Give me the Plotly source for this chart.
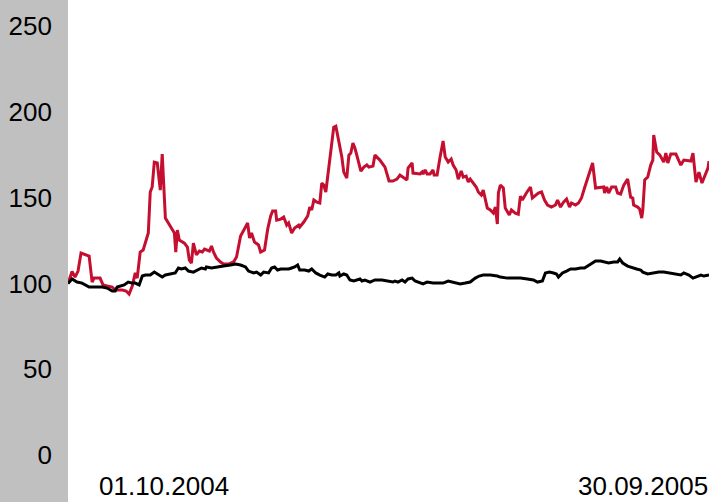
import pandas as pd
import plotly.graph_objects as go

# ---- data (day offsets from 01.10.2004, index values) ----
start_date = "2004-10-01"
end_date = "2005-09-30"

red_days = [0, 2.3, 4.0, 5.7, 7.4, 10.3, 12.0, 13.7, 14.8, 18.2, 19.9, 22.2, 25.1, 26.8, 30.8, 33.0,
            34.7, 36.5, 38.2, 39.3, 41.0, 42.7, 45.6, 46.7, 47.8, 49.0, 50.7, 52.4, 53.5, 55.3, 57.5,
            60.4, 61.2, 62.1, 63.2, 66.1, 67.8, 68.9, 70.1, 71.2, 72.9, 74.6, 76.3, 77.5, 80.3, 81.5,
            82.6, 84.3, 86.6, 88.3, 91.1, 94.0, 95.7, 98.0, 100.8, 102.0, 103.1, 104.2, 105.9, 108.2,
            109.4, 111.6, 113.4, 115.1, 116.2, 117.9, 118.5, 120.8, 122.5, 124.2, 125.3, 127.0, 128.7,
            131.0, 131.6, 133.9, 136.1, 137.3, 138.4, 139.6, 141.3, 143.0, 144.1, 145.2, 146.4, 148.1,
            149.2, 150.9, 152.1, 153.8, 155.5, 156.6, 158.3, 159.5, 160.6, 161.8, 162.9, 164.0, 165.2,
            166.3, 168.0, 169.7, 170.9, 173.2, 174.3, 177.1, 180.0, 182.3, 184.5, 186.8, 188.5, 190.2,
            192.5, 193.1, 195.4, 195.9, 199.9, 201.1, 201.6, 202.8, 203.9, 205.6, 207.3, 207.9, 209.6,
            211.3, 213.0, 214.2, 215.9, 217.6, 218.7, 220.4, 221.6, 223.3, 224.4, 226.1, 227.3, 228.4,
            230.1, 231.8, 233.0, 234.7, 235.8, 238.1, 239.8, 241.5, 242.7, 243.8, 244.4, 245.5, 247.2,
            247.8, 248.3, 250.6, 251.8, 254.0, 255.7, 256.9, 258.0, 260.3, 262.6, 263.7, 265.4, 267.1,
            268.9, 270.6, 272.3, 274.5, 276.8, 278.0, 279.7, 281.4, 283.1, 284.8, 285.9, 288.2, 289.9,
            291.6, 293.3, 295.6, 297.9, 299.6, 302.5, 304.2, 304.7, 305.9, 307.0, 308.7, 311.0, 312.1,
            313.8, 315.6, 317.8, 319.5, 320.7, 321.2, 323.5, 324.6, 325.8, 326.4, 327.5, 329.2, 330.9,
            332.1, 332.6, 334.3, 336.1, 338.3, 339.5, 340.6, 342.3, 345.2, 348.0, 349.7, 353.7, 354.9,
            356.6, 358.3, 360.0, 361.7, 363.4, 364.0]
red_vals = [100.0, 107.0, 103.7, 107.2, 117.7, 116.6, 116.0, 100.8, 103.1, 103.1, 99.1, 98.5, 97.9,
            96.2, 96.2, 95.6, 93.8, 98.5, 106.1, 103.1, 118.3, 119.5, 129.4, 153.3, 156.2, 170.7,
            170.2, 154.4, 175.4, 138.1, 134.0, 129.4, 118.3, 131.1, 125.3, 123.5, 121.2, 113.6,
            111.9, 123.5, 116.6, 118.9, 118.3, 120.0, 118.9, 121.8, 118.3, 114.8, 112.5, 111.3,
            111.3, 112.5, 115.4, 127.6, 132.9, 135.2, 126.5, 129.4, 124.1, 122.4, 118.3, 119.5,
            131.7, 139.3, 142.2, 142.2, 136.9, 137.5, 138.7, 134.0, 135.2, 129.4, 132.3, 134.0,
            132.9, 135.8, 139.3, 144.5, 142.8, 148.6, 147.4, 146.9, 158.5, 157.3, 153.3, 167.2,
            178.9, 191.1, 191.7, 182.4, 173.7, 164.9, 161.4, 174.8, 176.0, 181.8, 178.9, 174.8,
            170.2, 165.5, 167.8, 169.0, 167.8, 168.4, 174.8, 171.9, 167.8, 159.7, 159.7, 160.8,
            163.2, 162.0, 160.3, 167.2, 170.2, 164.3, 163.8, 164.9, 163.8, 166.1, 163.8, 163.8,
            166.1, 163.2, 163.2, 173.7, 183.0, 173.7, 170.7, 172.5, 169.0, 166.1, 160.8, 165.5,
            162.0, 162.6, 159.1, 160.8, 158.5, 156.2, 153.3, 151.5, 154.4, 143.9, 142.8, 141.0,
            144.5, 134.6, 152.7, 157.3, 155.6, 150.3, 143.9, 139.9, 142.8, 141.0, 140.4, 150.9,
            148.6, 152.7, 156.2, 149.8, 151.5, 152.7, 153.3, 148.6, 145.7, 144.5, 145.7, 148.6,
            144.5, 147.4, 149.2, 144.5, 146.9, 145.7, 146.9, 149.8, 155.6, 163.2, 170.2, 155.6,
            156.2, 156.2, 152.7, 156.2, 152.7, 156.2, 156.2, 152.7, 152.1, 157.3, 160.8, 150.3,
            149.8, 145.7, 144.5, 143.4, 138.1, 142.8, 160.3, 162.0, 169.0, 171.9, 186.5, 176.6,
            174.8, 170.7, 176.0, 170.2, 175.4, 175.4, 169.0, 171.9, 171.3, 176.0, 159.1, 164.9,
            158.5, 163.2, 167.2, 171.3]

black_days = [0, 2.3, 5.1, 8.0, 12.0, 15.9, 19.4, 22.2, 25.1, 26.8, 27.9, 31.9, 34.2, 36.5, 38.2,
              40.4, 42.2, 43.9, 46.7, 49.0, 51.3, 53.5, 55.3, 58.1, 60.9, 62.7, 64.4, 66.6, 68.4,
              71.2, 74.0, 75.8, 78.0, 78.6, 81.5, 84.3, 88.3, 92.3, 95.1, 98.0, 100.8, 102.5, 105.4,
              107.1, 109.4, 111.1, 113.9, 115.6, 117.3, 119.0, 120.8, 123.0, 125.3, 127.0, 128.7,
              130.4, 131.6, 134.4, 136.7, 138.4, 140.7, 143.0, 145.8, 147.5, 149.8, 152.1, 153.8,
              154.4, 156.6, 158.3, 160.1, 162.3, 164.0, 165.8, 166.9, 168.6, 171.5, 174.3, 178.3,
              182.3, 184.5, 185.7, 187.4, 189.7, 191.4, 193.1, 195.4, 197.1, 199.9, 201.6, 203.9,
              207.3, 210.2, 213.0, 215.9, 218.7, 221.0, 222.7, 225.6, 228.4, 231.3, 233.5, 235.8,
              239.8, 243.8, 245.5, 249.5, 252.9, 256.9, 260.9, 264.3, 266.6, 269.4, 271.1, 273.4,
              275.7, 277.4, 278.5, 280.8, 283.1, 285.4, 288.2, 291.1, 293.3, 295.1, 297.3, 299.6,
              302.5, 304.7, 307.0, 309.9, 312.1, 313.3, 315.0, 317.8, 320.7, 322.9, 325.2, 326.4,
              329.2, 332.1, 335.5, 338.3, 341.2, 343.5, 345.2, 348.0, 349.7, 352.6, 354.9, 357.7,
              359.4, 361.1, 364.0]
black_vals = [100.0, 102.6, 100.8, 100.2, 97.9, 97.9, 97.9, 97.3, 95.6, 95.6, 97.9, 99.1, 100.8,
              100.2, 100.2, 99.1, 104.3, 104.9, 104.9, 106.6, 104.9, 103.7, 104.9, 105.5, 106.1,
              109.0, 108.4, 109.0, 107.2, 106.6, 107.8, 109.0, 108.4, 109.6, 109.0, 109.6, 110.1,
              110.7, 111.3, 110.7, 109.6, 107.2, 106.1, 106.6, 104.9, 106.6, 106.1, 109.0, 109.6,
              107.8, 108.4, 108.4, 108.4, 109.0, 109.6, 110.7, 107.8, 107.8, 107.2, 108.4, 106.1,
              104.9, 103.7, 105.5, 104.9, 104.9, 106.1, 104.3, 105.5, 104.9, 102.0, 101.4, 102.0,
              102.6, 101.4, 102.0, 100.8, 102.0, 102.0, 101.4, 100.8, 101.4, 100.8, 102.0, 100.8,
              102.6, 103.1, 101.4, 100.2, 99.7, 100.8, 100.2, 100.2, 100.2, 101.4, 100.8, 100.2,
              99.7, 100.2, 100.8, 103.1, 104.3, 104.9, 104.9, 104.3, 103.7, 103.1, 103.1, 103.1,
              102.6, 102.0, 100.8, 101.4, 106.1, 106.6, 106.1, 105.5, 103.7, 106.1, 107.2, 108.4,
              108.4, 109.0, 109.0, 110.1, 111.9, 113.1, 113.1, 112.5, 111.9, 112.5, 112.5, 114.2,
              111.9, 110.1, 109.0, 108.4, 107.8, 106.6, 105.5, 106.1, 106.6, 106.6, 106.1, 106.1,
              105.5, 104.9, 106.1, 104.9, 103.1, 104.3, 104.9, 104.3, 104.9]

y_ticks = [0, 50, 100, 150, 200, 250]
date_labels = ["01.10.2004", "30.09.2005"]

# ---- build ----
t0 = pd.Timestamp(start_date)
red_x = t0 + pd.to_timedelta(red_days, unit="D")
black_x = t0 + pd.to_timedelta(black_days, unit="D")

FONT = "Liberation Sans, Arial, Helvetica, sans-serif"
FS = 26

fig = go.Figure()
fig.add_trace(go.Scatter(x=red_x, y=red_vals, mode="lines",
                         line=dict(color="#c40f30", width=3), hoverinfo="skip"))
fig.add_trace(go.Scatter(x=black_x, y=black_vals, mode="lines",
                         line=dict(color="#000000", width=3), hoverinfo="skip"))

fig.update_layout(
    width=709, height=502,
    margin=dict(l=68, r=0, t=0, b=0),
    paper_bgcolor="#c0c0c0",
    plot_bgcolor="#ffffff",
    showlegend=False,
    font=dict(family=FONT, size=FS, color="#000000"),
    xaxis=dict(type="date", range=[start_date, end_date], showticklabels=False,
               showgrid=False, zeroline=False, showline=False, ticks=""),
    yaxis=dict(range=[-27.4, 265.2], tickvals=y_ticks, ticktext=[str(v) for v in y_ticks],
               showgrid=False, zeroline=False, showline=False, ticks="",
               ticklabelstandoff=15, tickfont=dict(size=FS, family=FONT)),
    annotations=[
        dict(text=date_labels[0], xref="paper", yref="paper", x=0.1498, y=0, yshift=0,
             borderpad=0, xanchor="center", yanchor="bottom", showarrow=False,
             font=dict(size=FS, family=FONT)),
        dict(text=date_labels[1], xref="paper", yref="paper", x=1.0, y=0, yshift=0,
             borderpad=0, xanchor="right", yanchor="bottom", showarrow=False,
             font=dict(size=FS, family=FONT)),
    ],
)

fig.write_html(
    "out.html",
    config={"displayModeBar": False},
    post_script="document.body.style.margin='0';document.body.style.overflow='hidden';",
)
